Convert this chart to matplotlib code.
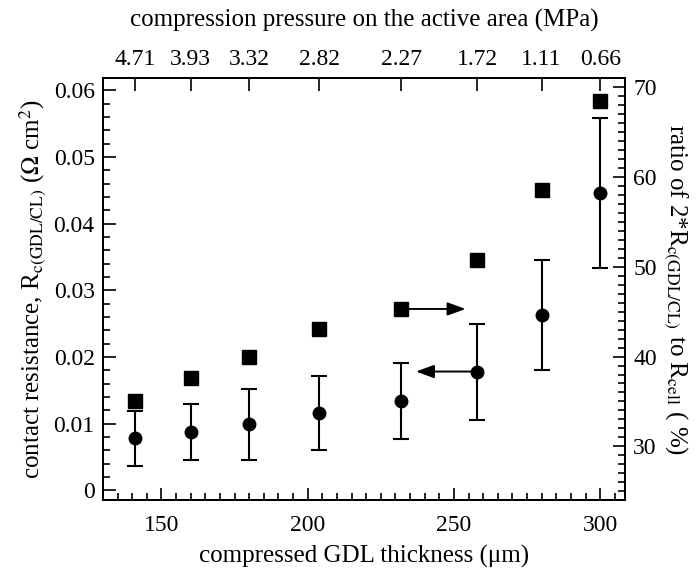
import matplotlib
matplotlib.use("Agg")
import matplotlib.pyplot as plt
from matplotlib.ticker import MultipleLocator

plt.rcParams['font.family'] = ['Liberation Serif', 'DejaVu Serif']
plt.rcParams['mathtext.fontset'] = 'stix'

# data
thickness = [141, 160, 180, 204, 232, 258, 280, 300]
pressure = ['4.71', '3.93', '3.32', '2.82', '2.27', '1.72', '1.11', '0.66']
resistance = [0.0078, 0.0088, 0.0099, 0.0116, 0.0134, 0.0178, 0.0263, 0.0446]
resistance_err = [0.0041, 0.0042, 0.0053, 0.0055, 0.0057, 0.0072, 0.0082, 0.0113]
ratio = [35.0, 37.6, 39.9, 43.1, 45.3, 50.8, 58.6, 68.5]
# arrow tips pointing to the axis each series belongs to
arrow_right_end = 254
arrow_left_end = 237

fig = plt.figure(figsize=(6.96, 5.71), dpi=100)
ax = fig.add_axes([0.148, 0.124, 0.75, 0.739])
ax2 = ax.twinx()
ax3 = ax.twiny()

ax.errorbar(thickness, resistance, yerr=resistance_err, fmt='o', color='black',
            markersize=9, elinewidth=1.5, capsize=6, capthick=1.5)
ax2.plot(thickness, ratio, 's', color='black', markersize=9.5)

ax.set_xlim(130, 308.5)
ax.set_ylim(-0.0015, 0.0618)
ax2.set_ylim(24.0, 71.0)
ax3.set_xlim(ax.get_xlim())

arrow = dict(arrowstyle='-|>,head_length=1.1,head_width=0.4',
             color='black', lw=1.4, shrinkA=0, shrinkB=0)
ax.annotate('', xy=(arrow_left_end, resistance[5]), xytext=(thickness[5], resistance[5]),
            arrowprops=arrow)
ax2.annotate('', xy=(arrow_right_end, ratio[4]), xytext=(thickness[4], ratio[4]),
             arrowprops=arrow)

fs_tick = 17
fs_lab = 18
ax.xaxis.set_major_locator(MultipleLocator(50))
ax.xaxis.set_minor_locator(MultipleLocator(5))
ax.yaxis.set_minor_locator(MultipleLocator(0.002))
ax.set_yticks([0, 0.01, 0.02, 0.03, 0.04, 0.05, 0.06])
ax.set_yticklabels(['0', '0.01', '0.02', '0.03', '0.04', '0.05', '0.06'])
ax2.yaxis.set_minor_locator(MultipleLocator(1))
ax2.set_yticks([30, 40, 50, 60, 70])

ax3.set_xticks(thickness)
ax3.set_xticklabels(pressure)

for a in (ax, ax2, ax3):
    a.tick_params(which='major', direction='in', length=9, width=1.2, labelsize=fs_tick, pad=6)
    a.tick_params(which='minor', direction='in', length=5, width=1.2)
    for s in a.spines.values():
        s.set_linewidth(1.3)
ax.tick_params(which='both', top=False, right=False)
ax.tick_params(axis='x', pad=11)
ax3.tick_params(which='both', bottom=False, labelbottom=False)
ax3.xaxis.set_minor_locator(plt.NullLocator())

ax.set_xlabel('compressed GDL thickness (μm)', fontsize=fs_lab, labelpad=6)
ax.set_ylabel(r'contact resistance, R$_{\rm c(GDL/CL)}$ ($\Omega$ cm$^2$)', fontsize=fs_lab, labelpad=4)
ax2.set_ylabel(r'ratio of 2*R$_{\rm c(GDL/CL)}$ to R$_{\rm cell}$ ( %)', fontsize=fs_lab,
               rotation=270, labelpad=24)
ax3.set_xlabel('compression pressure on the active area (MPa)', fontsize=fs_lab, labelpad=16)

fig.savefig('out.png', dpi=100)
